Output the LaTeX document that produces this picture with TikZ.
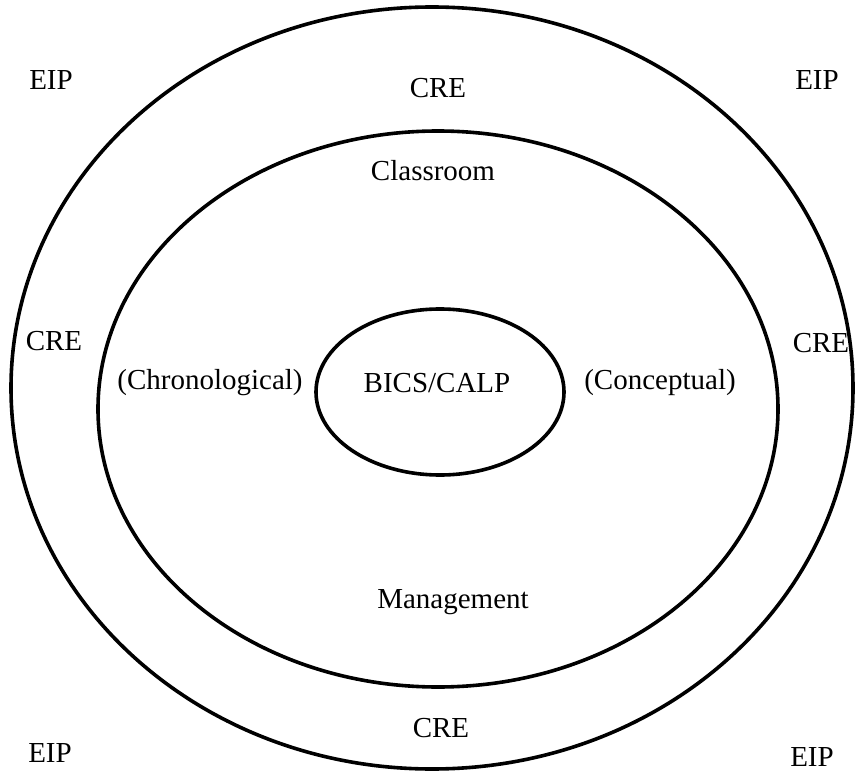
\documentclass[tikz,border=0pt]{standalone}
\usepackage{fontspec}
\setmainfont{Liberation Serif}
\usetikzlibrary{shapes.geometric}

\begin{document}
\begin{tikzpicture}[x=1pt,y=-1pt,font=\fontsize{29}{34}\selectfont,
  ring/.style={draw=black,line width=3.6pt,ellipse,inner sep=0pt},
  lbl/.style={inner sep=1pt}]
\useasboundingbox (0,0) rectangle (857,773);
\node[ring,minimum width=842pt,minimum height=762pt] (outer) at (432,388) {};
\node[ring,minimum width=680pt,minimum height=556pt] (middle) at (438,409) {};
\node[ring,minimum width=248pt,minimum height=166pt] (inner) at (440,392) {};
\node[lbl] (bics) at (437,383) {BICS/CALP};
\node[lbl] (chrono) at (210,383) {(Chronological)};
\node[lbl] (concept) at (660,383) {(Conceptual)};
\node[lbl] (classroom) at (433,171) {Classroom};
\node[lbl] (management) at (453,602) {Management};
\node[lbl] (creN) at (438,88) {CRE};
\node[lbl] (creW) at (54,341) {CRE};
\node[lbl] (creE) at (821,343) {CRE};
\node[lbl] (creS) at (441,728) {CRE};
\node[lbl] (eipNW) at (51,80) {EIP};
\node[lbl] (eipNE) at (817,80) {EIP};
\node[lbl] (eipSW) at (50,753) {EIP};
\node[lbl] (eipSE) at (812,757) {EIP};
\end{tikzpicture}
\end{document}
